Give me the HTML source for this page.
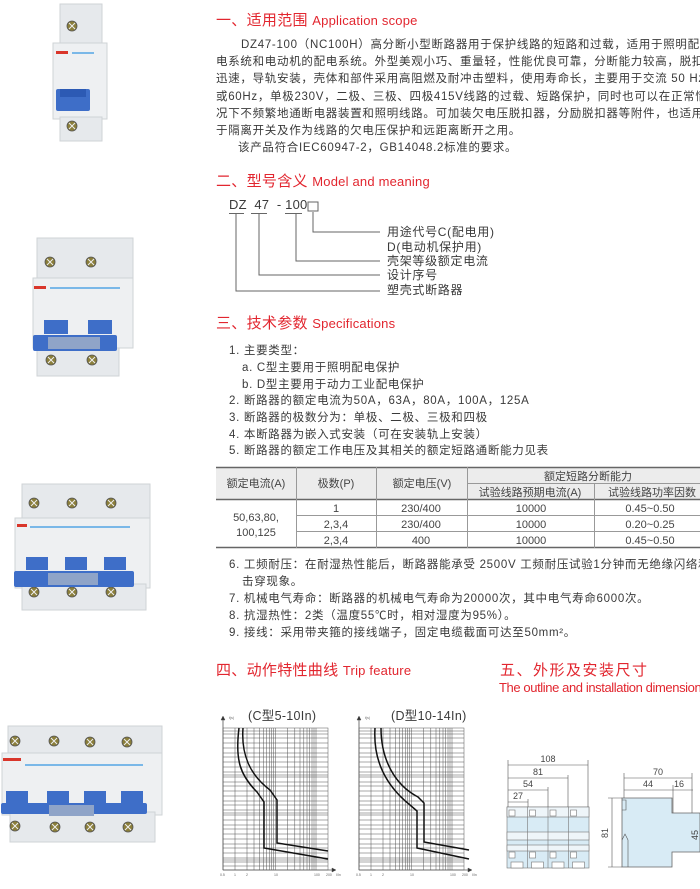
<!DOCTYPE html>
<html><head><meta charset="utf-8"><style>
*{margin:0;padding:0;box-sizing:border-box}
body{width:700px;height:889px;position:relative;overflow:hidden;background:#fff;font-family:"Liberation Sans","Noto Sans CJK SC",sans-serif;color:#3a3a3a}
.t{position:absolute;white-space:nowrap;font-size:11.5px;letter-spacing:0.7px;line-height:14px}
.h{position:absolute;white-space:nowrap;color:#e2262f;font-size:15px;line-height:16px;letter-spacing:0.3px}
.h span{font-size:13px;letter-spacing:0.2px}
</style></head><body>

<div class="h" style="left:216px;top:13px">一、适用范围 <span>Application scope</span></div>
<div class="t" style="left:241px;top:38px">DZ47-100（NC100H）高分断小型断路器用于保护线路的短路和过载，适用于照明配</div>
<div class="t" style="left:216px;top:55px">电系统和电动机的配电系统。外型美观小巧、重量轻，性能优良可靠，分断能力较高，脱扣</div>
<div class="t" style="left:216px;top:72px">迅速，导轨安装，壳体和部件采用高阻燃及耐冲击塑料，使用寿命长，主要用于交流 50 Hz</div>
<div class="t" style="left:216px;top:90px">或60Hz，单极230V，二极、三极、四极415V线路的过载、短路保护，同时也可以在正常情</div>
<div class="t" style="left:216px;top:107px">况下不频繁地通断电器装置和照明线路。可加装欠电压脱扣器，分励脱扣器等附件，也适用</div>
<div class="t" style="left:216px;top:124px">于隔离开关及作为线路的欠电压保护和远距离断开之用。</div>
<div class="t" style="left:238px;top:141px">该产品符合IEC60947-2，GB14048.2标准的要求。</div>

<div class="h" style="left:216px;top:174px">二、型号含义 <span>Model and meaning</span></div>
<div class="t" style="left:229px;top:198px;font-size:13px;letter-spacing:0.2px">DZ&nbsp;&nbsp;47&nbsp;&nbsp;-&nbsp;100</div>
<svg style="position:absolute;left:0;top:0" width="700" height="889">
<g stroke="#666" fill="none" stroke-width="1">
<rect x="308" y="202" width="10" height="9"/>
<path d="M229 213.5h15M251 213.5h16M285 213.5h17"/>
<path d="M313 212v20h67M296 213v48h84M259 213v62h121M236 213v78h144"/>
</g></svg>
<div class="t" style="left:387px;top:225px;font-size:12px">用途代号C(配电用)</div>
<div class="t" style="left:387px;top:240px;font-size:12px">D(电动机保护用)</div>
<div class="t" style="left:387px;top:254px;font-size:12px">壳架等级额定电流</div>
<div class="t" style="left:387px;top:268px;font-size:12px">设计序号</div>
<div class="t" style="left:387px;top:283px;font-size:12px">塑壳式断路器</div>

<div class="h" style="left:216px;top:316px">三、技术参数 <span>Specifications</span></div>
<div class="t" style="left:229px;top:344px">1. 主要类型：</div>
<div class="t" style="left:242px;top:361px">a. C型主要用于照明配电保护</div>
<div class="t" style="left:242px;top:378px">b. D型主要用于动力工业配电保护</div>
<div class="t" style="left:229px;top:394px">2. 断路器的额定电流为50A，63A，80A，100A，125A</div>
<div class="t" style="left:229px;top:411px">3. 断路器的极数分为：单极、二极、三极和四极</div>
<div class="t" style="left:229px;top:428px">4. 本断路器为嵌入式安装（可在安装轨上安装）</div>
<div class="t" style="left:229px;top:444px">5. 断路器的额定工作电压及其相关的额定短路通断能力见表</div>

<svg style="position:absolute;left:0;top:0" width="700" height="889">
<rect x="216" y="467" width="484" height="32" fill="#ececec"/>
<g stroke="#666" stroke-width="1">
<path d="M216 467.5h484M216 499.5h484M216 547.5h484" stroke-width="1.5"/>
<path d="M467 483.5h233M296 515.5h404M296 531.5h404" stroke="#999"/>
<path d="M296.5 467v81M376.5 467v81M467.5 467v81M594.5 483v65" stroke="#999"/>
</g>
<g font-size="11" fill="#444" text-anchor="middle" font-family="Liberation Sans,Noto Sans CJK SC,sans-serif">
<text x="256" y="487">额定电流(A)</text><text x="336" y="487">极数(P)</text><text x="422" y="487">额定电压(V)</text>
<text x="588" y="480">额定短路分断能力</text><text x="530" y="496">试验线路预期电流(A)</text><text x="652" y="496">试验线路功率因数</text>
<text x="256" y="521">50,63,80,</text><text x="256" y="536">100,125</text>
<text x="336" y="512">1</text><text x="336" y="528">2,3,4</text><text x="336" y="544">2,3,4</text>
<text x="421" y="512">230/400</text><text x="421" y="528">230/400</text><text x="421" y="544">400</text>
<text x="531" y="512">10000</text><text x="531" y="528">10000</text><text x="531" y="544">10000</text>
<text x="650" y="512">0.45~0.50</text><text x="650" y="528">0.20~0.25</text><text x="650" y="544">0.45~0.50</text>
</g></svg>

<div class="t" style="left:229px;top:558px">6. 工频耐压：在耐湿热性能后，断路器能承受 2500V 工频耐压试验1分钟而无绝缘闪络和</div>
<div class="t" style="left:242px;top:575px">击穿现象。</div>
<div class="t" style="left:229px;top:592px">7. 机械电气寿命：断路器的机械电气寿命为20000次，其中电气寿命6000次。</div>
<div class="t" style="left:229px;top:609px">8. 抗湿热性：2类（温度55℃时，相对湿度为95%）。</div>
<div class="t" style="left:229px;top:626px">9. 接线：采用带夹箍的接线端子，固定电缆截面可达至50mm²。</div>

<div class="h" style="left:216px;top:663px">四、动作特性曲线 <span>Trip feature</span></div>
<div class="h" style="left:500px;top:663px;letter-spacing:1.5px">五、外形及安装尺寸</div>
<div class="h" style="left:499px;top:680px;letter-spacing:0"><span style="font-size:13px;letter-spacing:-0.4px">The outline and installation dimensions</span></div>

<div class="t" style="left:248px;top:709px;font-size:12.5px;letter-spacing:0.3px">(C型5-10In)</div>
<div class="t" style="left:391px;top:709px;font-size:12.5px;letter-spacing:0.3px">(D型10-14In)</div>

<svg style="position:absolute;left:0;top:0" width="700" height="889">
<defs>
<g id="grid" stroke="#555" stroke-width="0.5" fill="none">
<rect x="223" y="728" width="105" height="142"/>
<path d="M235 728v142M247 728v142M254 728v142M259.5 728v142M263.5 728v142M266.5 728v142M269.3 728v142M271.6 728v142M273.7 728v142M275.6 728v142M287.7 728v142M294.8 728v142M300 728v142M303.8 728v142M307 728v142M309.7 728v142M312 728v142M314 728v142M316 728v142"/>
<path d="M223 731h105M223 734h105M223 738h105M223 743h105M223 748h105M223 753h105M223 757h105M223 762h105M223 767h105M223 772h105M223 775h105M223 777h105M223 782h105M223 786h105M223 791h105M223 796h105M223 801h105M223 805h105M223 810h105M223 813h105M223 815h105M223 820h105M223 825h105M223 829h105M223 834h105M223 839h105M223 844h105M223 848h105M223 853h105M223 858h105M223 860h105M223 862h105M223 866h105"/>
<path d="M223 870v-152M223 870h110" stroke-width="0.8"/>
<path d="M221 720l2-4 2 4zM332 868l4 2-4 2z" fill="#333"/>
</g>
</defs>
<use href="#grid"/>
<use href="#grid" transform="translate(136,0)"/>
<g stroke="#111" stroke-width="1.5" fill="none">
<path d="M239 728C235 760 240 775 257 792L264 802V848L328 859"/>
<path d="M243 728C241 755 250 775 270 790L277 800V843L328 851"/>
<path d="M375 728C373 760 385 785 410 805L417 811V848L469 859"/>
<path d="M381 728C381 760 395 785 418 797L424 803V842L469 850"/>
</g>
<g font-size="3.5" fill="#666" font-family="Liberation Sans,sans-serif">
<text x="229" y="719">t(s)</text><text x="365" y="719">t(s)</text>
<text x="220" y="876">0.5</text><text x="234" y="876">1</text><text x="246" y="876">2</text><text x="274" y="876">10</text><text x="314" y="876">100</text><text x="326" y="876">200</text><text x="336" y="876">I/In</text>
<text x="356" y="876">0.5</text><text x="370" y="876">1</text><text x="382" y="876">2</text><text x="410" y="876">10</text><text x="450" y="876">100</text><text x="462" y="876">200</text><text x="472" y="876">I/In</text>
</g>

<!-- front view -->
<g stroke="#777" stroke-width="0.6" fill="#d3e8f4">
<rect x="507" y="807" width="82" height="61" fill="#d8ebf5"/>
<rect x="507" y="807" width="82" height="10" fill="#eef5f9"/>
<rect x="507" y="832" width="82" height="8" fill="#eef5f9"/>
<rect x="507" y="845" width="82" height="6" fill="#eef5f9"/>
<path d="M527.5 807v61M548 807v61M568.5 807v61" fill="none"/>
<rect x="509" y="810" width="6" height="6" fill="#fff"/><rect x="529.5" y="810" width="6" height="6" fill="#fff"/><rect x="550" y="810" width="6" height="6" fill="#fff"/><rect x="570.5" y="810" width="6" height="6" fill="#fff"/>
<rect x="509" y="852" width="6" height="6" fill="#fff"/><rect x="529.5" y="852" width="6" height="6" fill="#fff"/><rect x="550" y="852" width="6" height="6" fill="#fff"/><rect x="570.5" y="852" width="6" height="6" fill="#fff"/>
<rect x="511" y="862" width="12" height="6" fill="#fff"/><rect x="531.5" y="862" width="12" height="6" fill="#fff"/><rect x="552" y="862" width="12" height="6" fill="#fff"/><rect x="572.5" y="862" width="12" height="6" fill="#fff"/>
</g>
<path d="M622 798H672V813H700V852H672V867H622Z" fill="#d8ebf5" stroke="#666" stroke-width="0.8"/>
<g stroke="#555" stroke-width="0.6" fill="none">
<path d="M508 760v47M588 760v47M568 775v32M548 787v20M528 799v8"/>
<path d="M508 765h80M508 778h60M508 790h40M508 802h20"/>
<path d="M624 773v25M692 773v40M673 785v28M608 798h14M608 867h14M612 798v69M624 778h68M624 790h69"/>
<path d="M622 800h4v10h-4M622 840l3-6 3 6v27" />
</g>
<g font-size="9" fill="#444" text-anchor="middle" font-family="Liberation Sans,sans-serif">
<text x="548" y="762">108</text><text x="538" y="775">81</text><text x="528" y="787">54</text><text x="518" y="799">27</text>
<text x="658" y="775">70</text><text x="648" y="787">44</text><text x="679" y="787">16</text>
<text x="0" y="0" transform="translate(608 833) rotate(-90)">81</text>
<text x="0" y="0" transform="translate(698 835) rotate(-90)">45</text>
</g>

<!-- breakers -->
<defs>
<g id="scr"><circle r="5" fill="#8a7e3a" stroke="#555" stroke-width="0.8"/><path d="M-3 -3L3 3M3 -3L-3 3" stroke="#eee" stroke-width="1"/></g>
</defs>
<g>
<rect x="60" y="4" width="42" height="44" fill="#e6e9ec" stroke="#cfd3d6"/>
<rect x="53" y="43" width="54" height="76" fill="#eef0f2" stroke="#cfd3d6"/>
<rect x="60" y="117" width="42" height="24" fill="#e6e9ec" stroke="#cfd3d6"/>
<use href="#scr" x="72" y="26"/><use href="#scr" x="72" y="126"/>
<rect x="56" y="51" width="12" height="3" fill="#d9362b"/><rect x="72" y="52" width="22" height="2" fill="#7ab8e8"/>
<rect x="56" y="89" width="34" height="22" rx="2" fill="#3e6ec8"/><rect x="60" y="89" width="26" height="8" fill="#2c5ab4"/>
</g>
<g>
<rect x="37" y="238" width="96" height="42" fill="#e6e9ec" stroke="#cfd3d6"/>
<rect x="33" y="278" width="100" height="70" fill="#eef0f2" stroke="#cfd3d6"/>
<rect x="37" y="348" width="82" height="28" fill="#e6e9ec" stroke="#cfd3d6"/>
<use href="#scr" x="50" y="262"/><use href="#scr" x="91" y="262"/><use href="#scr" x="51" y="360"/><use href="#scr" x="92" y="360"/>
<rect x="34" y="286" width="12" height="3" fill="#d9362b"/><rect x="50" y="287" width="70" height="2" fill="#7ab8e8"/>
<rect x="44" y="320" width="24" height="14" fill="#3e6ec8"/><rect x="88" y="320" width="24" height="14" fill="#3e6ec8"/>
<rect x="33" y="335" width="84" height="16" rx="2" fill="#3e6ec8"/><rect x="48" y="337" width="52" height="12" fill="#8fa4c8"/>
</g>
<g>
<rect x="22" y="484" width="128" height="40" fill="#e6e9ec" stroke="#cfd3d6"/>
<rect x="15" y="518" width="135" height="70" fill="#eef0f2" stroke="#cfd3d6"/>
<rect x="22" y="584" width="124" height="26" fill="#e6e9ec" stroke="#cfd3d6"/>
<use href="#scr" x="34" y="503"/><use href="#scr" x="72" y="503"/><use href="#scr" x="111" y="503"/>
<use href="#scr" x="34" y="592"/><use href="#scr" x="72" y="592"/><use href="#scr" x="111" y="592"/>
<rect x="17" y="524" width="10" height="3" fill="#d9362b"/><rect x="30" y="526" width="100" height="2" fill="#7ab8e8"/>
<rect x="26" y="557" width="22" height="13" fill="#3e6ec8"/><rect x="65" y="557" width="22" height="13" fill="#3e6ec8"/><rect x="104" y="557" width="22" height="13" fill="#3e6ec8"/>
<rect x="14" y="571" width="120" height="16" rx="2" fill="#3e6ec8"/><rect x="48" y="573" width="50" height="12" fill="#8fa4c8"/>
</g>
<g>
<rect x="8" y="726" width="154" height="32" fill="#e6e9ec" stroke="#cfd3d6"/>
<rect x="2" y="753" width="160" height="62" fill="#eef0f2" stroke="#cfd3d6"/>
<rect x="10" y="812" width="145" height="30" fill="#e6e9ec" stroke="#cfd3d6"/>
<use href="#scr" x="15" y="741"/><use href="#scr" x="54" y="741"/><use href="#scr" x="90" y="742"/><use href="#scr" x="127" y="742"/>
<use href="#scr" x="15" y="826"/><use href="#scr" x="55" y="827"/><use href="#scr" x="90" y="827"/><use href="#scr" x="128" y="827"/>
<rect x="3" y="758" width="18" height="3" fill="#d9362b"/><rect x="25" y="764" width="118" height="2" fill="#7ab8e8"/>
<rect x="6" y="791" width="22" height="12" fill="#3e6ec8"/><rect x="47" y="791" width="22" height="12" fill="#3e6ec8"/><rect x="84" y="791" width="22" height="12" fill="#3e6ec8"/><rect x="121" y="791" width="22" height="12" fill="#3e6ec8"/>
<rect x="1" y="803" width="146" height="11" rx="2" fill="#3e6ec8"/><rect x="49" y="805" width="45" height="11" fill="#8fa4c8"/>
</g>
</svg>
</body></html>
